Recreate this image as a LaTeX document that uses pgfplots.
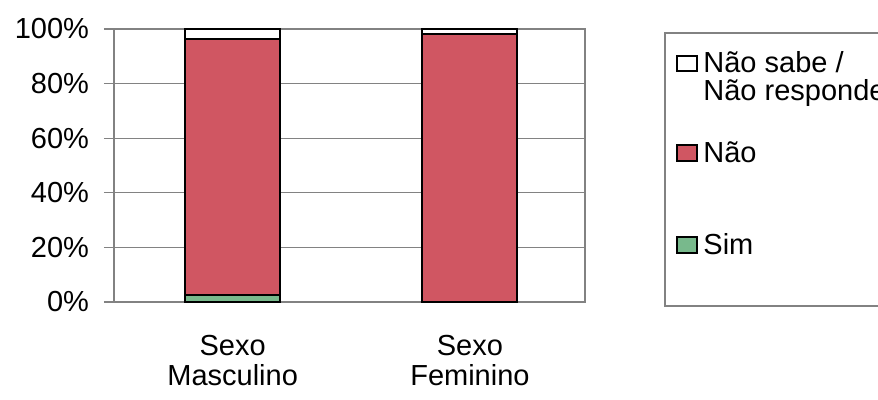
\documentclass[border=0pt]{standalone}
\usepackage{fontspec}
\setmainfont{Liberation Sans}
\usepackage{pgfplots}
\pgfplotsset{compat=1.18}
\definecolor{barred}{RGB}{208,86,98}
\definecolor{bargreen}{RGB}{120,185,140}
\definecolor{axgray}{RGB}{130,130,130}
\begin{document}
\begin{tikzpicture}[font=\fontsize{14.5pt}{15pt}\selectfont]
\path[use as bounding box] (0,0) rectangle (439pt,200pt);
\begin{axis}[
  at={(57pt,49pt)}, anchor=south west,
  scale only axis, width=235.5pt, height=136.5pt,
  ybar stacked, bar width=0.4,
  xmin=-0.5, xmax=1.485, ymin=0, ymax=100,
  clip=false,
  xtick={0,1}, xticklabels={{Sexo\\Masculino},{Sexo\\Feminino}},
  xticklabel style={align=center, yshift=-8pt},
  ytick={0,20,...,100},
  yticklabel={\pgfmathprintnumber{\tick}\%},
  yticklabel style={xshift=-4pt},
  /pgf/number format/assume math mode=true,
  ymajorgrids, grid style={axgray, line width=0.6pt},
  axis line style={axgray, line width=0.6pt},
  xtick style={draw=none},
  ytick style={axgray, line width=0.6pt},
  tick align=outside, ytick pos=left, major tick length=5pt,
]
\addplot[fill=bargreen, draw=black, line width=1pt] coordinates {(0,2.4) (1,0)};
\addplot[fill=barred, draw=black, line width=1pt] coordinates {(0,94.1) (1,98.3)};
\addplot[fill=white, draw=black, line width=1pt] coordinates {(0,3.5) (1,1.7)};
\end{axis}
% legend (partly cut by the right edge, as in the reference)
\draw[axgray, line width=0.6pt] (460pt,183.5pt) -- (332.5pt,183.5pt) -- (332.5pt,47pt) -- (460pt,47pt);
\draw[black, line width=1pt, fill=white] (338.5pt,164.3pt) rectangle (348.5pt,171.8pt);
\node[anchor=base west, inner sep=0pt] at (351.5pt,163.5pt) {Não sabe /};
\node[anchor=base west, inner sep=0pt] at (351.5pt,149.5pt) {Não responde};
\draw[black, line width=1pt, fill=barred] (338.5pt,119.3pt) rectangle (348.5pt,127.3pt);
\node[anchor=base west, inner sep=0pt] at (351.5pt,118.5pt) {Não};
\draw[black, line width=1pt, fill=bargreen] (338.5pt,73.3pt) rectangle (348.5pt,81.3pt);
\node[anchor=base west, inner sep=0pt] at (351.5pt,72.5pt) {Sim};
\end{tikzpicture}
\end{document}
